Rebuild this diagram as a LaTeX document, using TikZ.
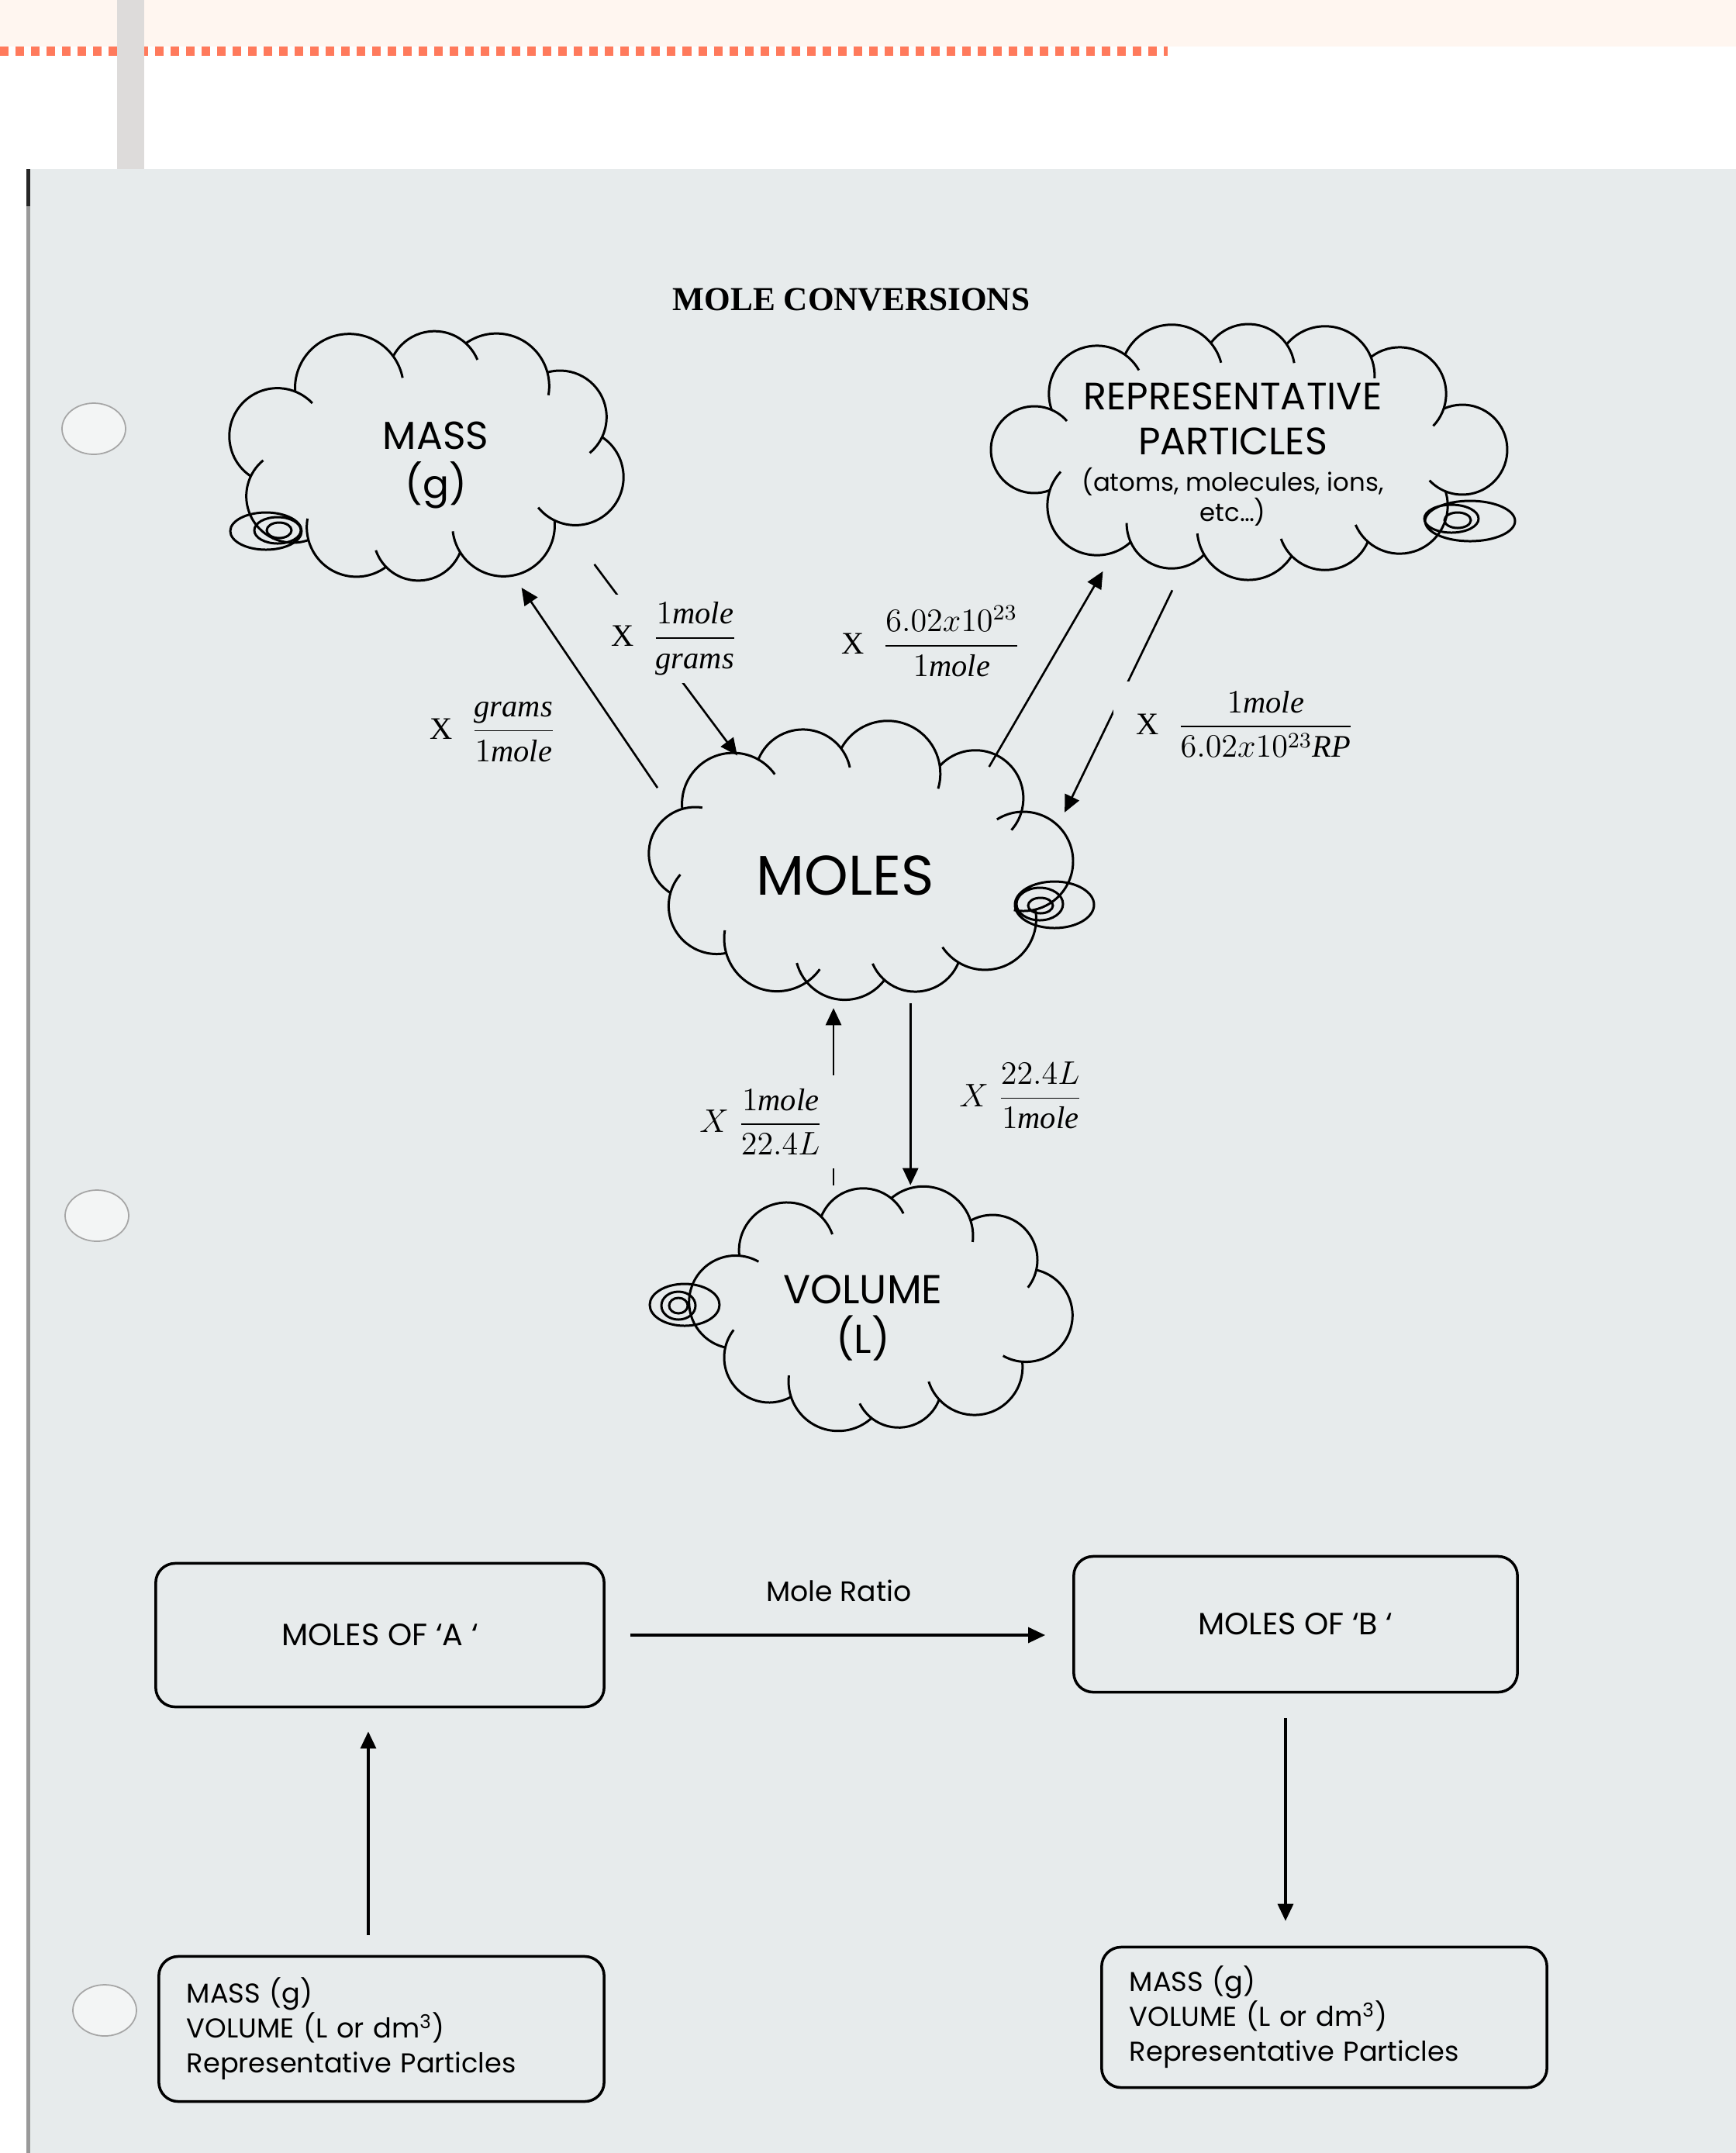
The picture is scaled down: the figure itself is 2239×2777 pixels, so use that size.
\documentclass[tikz,border=0pt]{standalone}
\usepackage{amsmath}
\usepackage{fontspec}
\setmainfont{Liberation Serif}
\newfontfamily\geofont{Poppins}
\usetikzlibrary{arrows.meta,shapes.geometric,positioning}

\definecolor{paper}{RGB}{231,235,236}
\definecolor{peach}{RGB}{255,246,240}
\definecolor{coral}{RGB}{255,122,92}
\definecolor{bargrey}{RGB}{221,219,218}

\newcommand{\rpsmall}{\fontsize{9.2}{12}\selectfont}

% puffs of a cloud: centre, half axes, count, angles, radii, end hooks, start hooks
\newcommand{\cloudpuffs}[9]{%
  \foreach \i in {1,...,#5}{%
    \pgfmathtruncatemacro\ia{\i-1}%
    \pgfmathtruncatemacro\ib{mod(\i+#5-2,#5)}%
    \pgfmathtruncatemacro\ic{mod(\i,#5)}%
    \pgfmathsetmacro\ta{{#6}[\ia]}%
    \pgfmathsetmacro\tb{{#6}[\ib]}%
    \pgfmathsetmacro\tc{{#6}[\ic]}%
    \pgfmathsetmacro\ra{{#7}[\ia]/100}%
    \pgfmathsetmacro\rb{{#7}[\ib]/100}%
    \pgfmathsetmacro\rc{{#7}[\ic]/100}%
    \pgfmathsetmacro\xa{#3/100*cos(\ta)}%
    \pgfmathsetmacro\ya{#4/100*sin(\ta)}%
    \pgfmathsetmacro\xb{#3/100*cos(\tb)-\xa}%
    \pgfmathsetmacro\yb{#4/100*sin(\tb)-\ya}%
    \pgfmathsetmacro\xc{#3/100*cos(\tc)-\xa}%
    \pgfmathsetmacro\yc{#4/100*sin(\tc)-\ya}%
    \pgfmathsetmacro\db{veclen(\xb,\yb)}%
    \pgfmathsetmacro\dc{veclen(\xc,\yc)}%
    \pgfmathsetmacro\sa{atan2(\yb,\xb)+acos(max(-1,min(1,(\ra*\ra+\db*\db-\rb*\rb)/(2*\ra*\db))))-{#9}[\ia]}%
    \pgfmathsetmacro\ea{atan2(\yc,\xc)-acos(max(-1,min(1,(\ra*\ra+\dc*\dc-\rc*\rc)/(2*\ra*\dc))))}%
    \pgfmathsetmacro\ea{\sa+mod(\ea-\sa+720,360)+{#8}[\ia]}%
    \draw[cloudline] ({#1+100*\xa},{#2+100*\ya}) ++(\sa:{100*\ra}) arc[start angle=\sa, end angle=\ea, radius={100*\ra}];%
  }%
}

\tikzset{
  cloudline/.style={line width=0.85pt},
  cloudtext/.style={ellipse, inner sep=0pt, align=center},
  factor/.style={inner xsep=0.05cm, inner ysep=0.05cm, font=\fontsize{11.5}{13}\selectfont},
  gap/.style={fill=paper},
  roundbox/.style={draw, rounded corners=0.25cm, line width=1pt, font=\geofont\fontsize{10}{12.8}\selectfont},
  listbox/.style={roundbox, text width=5.02cm, inner xsep=0.36cm, align=left, minimum height=1.87cm},
}

\begin{document}
\begin{tikzpicture}[x=0.01cm, y=-0.01cm, >={Triangle[length=0.22cm,width=0.2cm]}, line width=0.75pt]

\useasboundingbox (0,0) rectangle (2239,2777);

% page and scan
\fill[white] (0,0) rectangle (2239,2777);
\fill[peach] (0,0) rectangle (2239,60);
\draw[coral, line width=3.4pt, dash pattern=on 0.11cm off 0.09cm] (0,66) -- (1506,66);
\fill[bargrey] (151,0) rectangle (186,218);
\fill[paper] (34,218) rectangle (2239,2777);
\fill[black!40] (34,218) rectangle (39,2777);
\fill[black!85] (34,218) rectangle (39,266);

% punched holes
\foreach \y/\x in {553/121, 1568/125, 2593/135}
    \draw[black!35, line width=0.5pt, fill=white!50!paper] (\x,\y) ellipse [x radius=41, y radius=33];

% title
\node[font=\bfseries\fontsize{12.3}{14}\selectfont] (title) at (1098,386) {MOLE CONVERSIONS};

% clouds
\cloudpuffs{550}{589}{199}{102}{10}{15,60,93,117,150,195,240,273,297,330}{62,66,58,64,60,62,70,60,68,60}{25,25,25,25,25,25,25,25,25,25}{0,0,0,0,0,0,0,0,0,0}
\cloudpuffs{1610}{580}{276}{102}{12}{0,45,69,90,111,135,180,225,249,270,291,315}{58,62,60,66,58,64,56,62,66,60,64,60}{25,25,25,25,25,25,25,25,25,25,25,25}{0,0,0,0,0,0,0,0,0,0,0,0}
\cloudpuffs{1108}{1111}{212}{115}{11}{0,40,70,95,120,150,185,220,250,280,315}{64,66,60,64,68,62,60,66,62,68,62}{25,25,25,25,25,25,25,25,25,25,25}{30,0,0,0,20,0,0,0,0,0,0}
\cloudpuffs{1136}{1688}{188}{98}{10}{5,50,83,107,140,185,230,263,287,320}{60,62,56,64,58,60,62,58,64,58}{25,25,25,25,25,25,25,25,25,25}{0,0,0,0,0,0,0,0,0,0}

% thought bubbles
\draw[cloudline] (343,685) ellipse [x radius=46, y radius=24] (358,684) ellipse [x radius=30, y radius=17] (360,684) ellipse [x radius=16, y radius=10];
\draw[cloudline] (1896,672) ellipse [x radius=58, y radius=26] (1872,669) ellipse [x radius=35, y radius=18] (1880,671) ellipse [x radius=17, y radius=10];
\draw[cloudline] (1360,1167) ellipse [x radius=51, y radius=30] (1341,1166) ellipse [x radius=30, y radius=21] (1342,1168) ellipse [x radius=16, y radius=10];
\draw[cloudline] (883,1683) ellipse [x radius=45, y radius=27] (875,1684) ellipse [x radius=22, y radius=18] (875,1684) ellipse [x radius=12, y radius=10];

% cloud texts
\node[cloudtext, minimum width=6.23cm, minimum height=3.35cm, font=\geofont\fontsize{14.3}{17.8}\selectfont] (mass) at (562,600) {MASS\\(g)};
\node[cloudtext, minimum width=6cm, minimum height=3.6cm, font=\geofont\fontsize{14}{14}\selectfont] (rp) at (1590,586)
    {REPRESENTATIVE\\[2.6pt]PARTICLES\\[-0.5pt]\rpsmall (atoms, molecules, ions,\\[-3pt]\rpsmall etc\ldots)};
\node[cloudtext, minimum width=6.4cm, minimum height=3.4cm, font=\geofont\fontsize{20.5}{24}\selectfont] (moles) at (1090,1129) {MOLES};
\node[cloudtext, minimum width=5.2cm, minimum height=3.4cm, font=\geofont\fontsize{14.8}{18.2}\selectfont] (volume) at (1113,1700) {VOLUME\\(L)};

% conversions
\draw[->] (moles.155) -- (mass.-55.5);
\draw[->] (mass.-32) -- (moles.132);
\draw[->] (moles.37) -- (rp.-138);
\draw[->] (rp.-114) -- (moles.16);
\draw[->] (volume.north -| moles.-95) -- (moles.-95);
\draw[->] (moles.-63) -- (moles.-63 |- volume.north);

% factors
\node[factor] (moltog) at (636,944) {$\mathrm{X}\;\;\dfrac{\mathit{grams}}{1\mathit{mole}}$};
\node[factor, gap, inner xsep=0.2cm, inner ysep=0.1cm] (gtomol) at (870,824) {$\mathrm{X}\;\;\dfrac{1\mathit{mole}}{\mathit{grams}}$};
\node[factor] (moltorp) at (1201,827) {$\mathrm{X}\;\;\dfrac{6.02x10^{23}}{1\mathit{mole}}$};
\node[factor, gap, inner xsep=0.3cm, inner ysep=0.12cm] (rptomol) at (1606,934) {$\mathrm{X}\;\;\dfrac{1\mathit{mole}}{6.02x10^{23}\mathit{RP}}$};
\node[factor, gap, inner xsep=0.22cm, inner ysep=0.17cm] (ltomol) at (982,1447) {$X\;\dfrac{1\mathit{mole}}{22.4L}$};
\node[factor] (moltol) at (1317,1413) {$X\;\dfrac{22.4L}{1\mathit{mole}}$};

% mole ratio map
\node[roundbox, minimum width=5.78cm, minimum height=1.85cm, font=\geofont\fontsize{11.3}{13}\selectfont] (molesA) at (490,2109) {MOLES OF ‘A ‘};
\node[roundbox, minimum width=5.72cm, minimum height=1.75cm, font=\geofont\fontsize{11.3}{13}\selectfont] (molesB) at (1671,2095) {MOLES OF ‘B ‘};
\node[listbox] (startbox) at (492,2617) {MASS (g)\\VOLUME (L or dm\textsuperscript{3})\\Representative Particles};
\node[listbox, minimum height=1.81cm] (endbox) at (1708,2602) {MASS (g)\\VOLUME (L or dm\textsuperscript{3})\\Representative Particles};

\draw[->, line width=0.9pt, shorten <=0.32cm, shorten >=0.35cm] (molesA.east) -- node[above=0.3cm, font=\geofont\fontsize{10.3}{12}\selectfont] (ratio) {Mole Ratio} (molesA.east -| molesB.west);
\draw[->, line width=0.9pt, shorten <=0.26cm, shorten >=0.3cm] ([xshift=-0.17cm]startbox.north) -- ([xshift=-0.17cm]startbox.north |- molesA.south);
\draw[->, line width=0.9pt, shorten <=0.32cm, shorten >=0.32cm] ([xshift=-0.13cm]molesB.south) -- ([xshift=-0.13cm]molesB.south |- endbox.north);

\end{tikzpicture}
\end{document}
